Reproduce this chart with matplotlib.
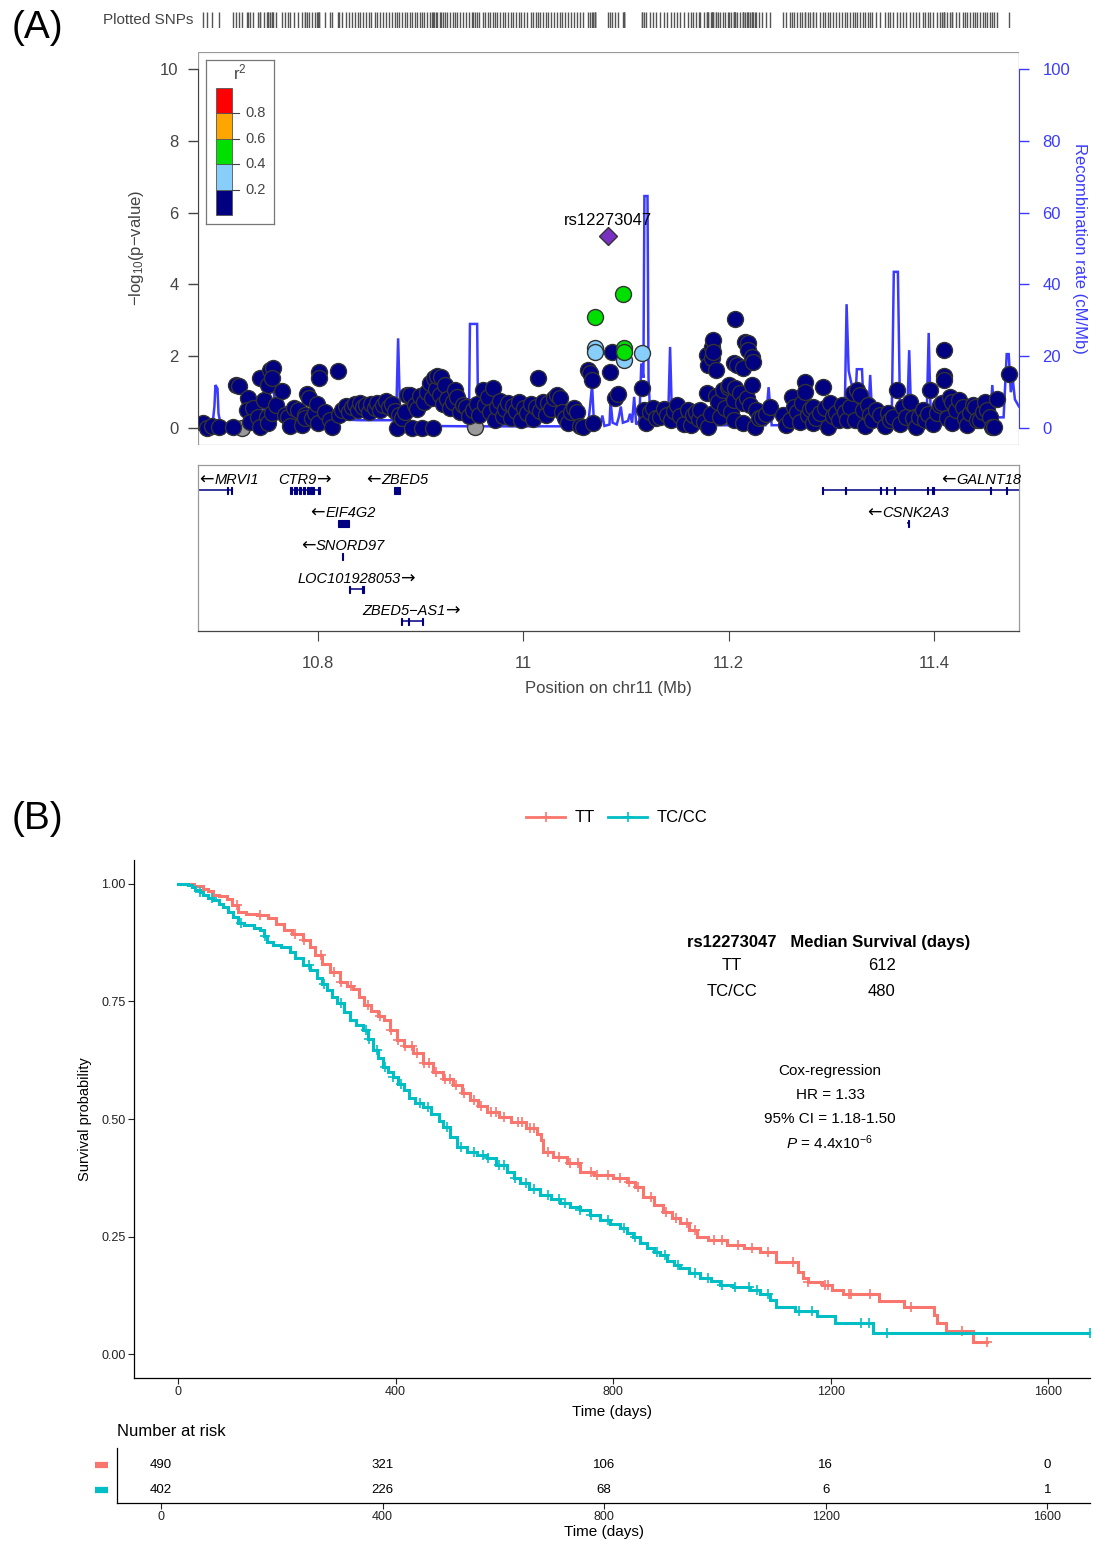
import numpy as np
import matplotlib
matplotlib.use("Agg")
import matplotlib.pyplot as plt
from matplotlib.patches import Rectangle
from matplotlib.lines import Line2D
from matplotlib.transforms import offset_copy

plt.rcParams['font.family'] = ['Liberation Sans', 'DejaVu Sans']
plt.rcParams['mathtext.fontset'] = 'custom'
plt.rcParams['mathtext.rm'] = 'Liberation Sans'
plt.rcParams['mathtext.it'] = 'Liberation Sans:italic'
plt.rcParams['mathtext.bf'] = 'Liberation Sans:bold'

# ------------------------------------------------------------------
# Panel A: regional association around rs12273047 (chr11)
# ------------------------------------------------------------------
lead_snp = "rs12273047"
lead_pos, lead_logp = 11.0825, 5.35

# (position in Mb, -log10 p) by LD bin with the lead SNP
navy_snps = [
    (10.688, 0.14), (10.692, 0.00), (10.697, 0.06), (10.703, 0.03), (10.717, 0.03),
    (10.720, 1.20), (10.723, 1.17), (10.732, 0.84), (10.731, 0.50), (10.737, 0.56),
    (10.734, 0.17), (10.741, 0.31), (10.743, 1.39), (10.743, 0.03), (10.747, 0.78),
    (10.750, 0.31), (10.751, 1.20), (10.751, 0.14), (10.753, 1.62), (10.756, 1.67),
    (10.755, 1.39), (10.755, 0.42), (10.759, 0.64), (10.765, 1.03), (10.768, 0.36),
    (10.771, 0.31), (10.773, 0.06), (10.777, 0.56), (10.780, 0.50), (10.784, 0.08),
    (10.787, 0.36), (10.787, 0.28), (10.789, 0.95), (10.791, 0.84), (10.794, 0.28),
    (10.797, 0.42), (10.799, 0.67), (10.800, 0.14), (10.801, 1.56), (10.801, 1.39),
    (10.807, 0.45), (10.812, 0.22), (10.814, 0.03), (10.819, 1.59), (10.820, 0.36),
    (10.823, 0.50), (10.827, 0.61), (10.830, 0.45), (10.833, 0.58), (10.836, 0.67),
    (10.839, 0.50), (10.841, 0.70), (10.844, 0.58), (10.847, 0.64), (10.850, 0.45),
    (10.852, 0.67), (10.855, 0.56), (10.857, 0.70), (10.860, 0.50), (10.863, 0.64),
    (10.866, 0.75), (10.869, 0.58), (10.872, 0.67), (10.875, 0.47), (10.877, 0.00),
    (10.879, 0.36), (10.882, 0.28), (10.885, 0.45), (10.887, 0.92), (10.890, 0.92),
    (10.892, 0.00), (10.894, 0.64), (10.896, 0.53), (10.899, 0.89), (10.901, 0.00),
    (10.903, 0.72), (10.906, 1.00), (10.909, 1.25), (10.911, 0.84), (10.912, 0.00),
    (10.913, 1.39), (10.915, 1.09), (10.916, 1.45), (10.919, 0.92), (10.920, 1.42),
    (10.922, 0.67), (10.924, 1.20), (10.926, 0.81), (10.929, 0.56), (10.931, 0.72),
    (10.933, 1.06), (10.935, 0.86), (10.938, 0.45), (10.941, 0.64), (10.944, 0.58),
    (10.947, 0.33), (10.951, 0.50), (10.955, 0.67), (10.957, 0.36), (10.961, 1.06),
    (10.963, 0.64), (10.966, 0.86), (10.968, 0.45), (10.970, 1.11), (10.972, 0.22),
    (10.974, 0.58), (10.977, 0.75), (10.980, 0.33), (10.982, 0.53), (10.985, 0.70),
    (10.988, 0.28), (10.990, 0.61), (10.993, 0.47), (10.996, 0.72), (10.998, 0.22),
    (11.001, 0.56), (11.004, 0.42), (11.007, 0.67), (11.009, 0.25), (11.012, 0.58),
    (11.014, 1.39), (11.016, 0.47), (11.019, 0.72), (11.022, 0.36), (11.024, 0.70),
    (11.027, 0.53), (11.030, 0.84), (11.033, 0.92), (11.036, 0.84), (11.038, 0.45),
    (11.041, 0.28), (11.044, 0.14), (11.046, 0.45), (11.049, 0.56), (11.052, 0.45),
    (11.055, 0.06), (11.058, 0.03), (11.063, 1.62), (11.065, 1.53), (11.067, 1.34),
    (11.068, 0.14), (11.084, 1.56), (11.086, 2.12), (11.089, 0.84), (11.092, 0.95),
    (11.116, 1.11), (11.118, 0.50), (11.120, 0.14), (11.123, 0.45), (11.126, 0.56),
    (11.129, 0.28), (11.133, 0.31), (11.137, 0.53), (11.140, 0.36), (11.144, 0.22),
    (11.147, 0.47), (11.150, 0.64), (11.153, 0.33), (11.157, 0.11), (11.160, 0.50),
    (11.163, 0.08), (11.165, 0.36), (11.168, 0.45), (11.171, 0.25), (11.172, 0.50),
    (11.176, 0.17), (11.179, 0.98), (11.179, 2.03), (11.180, 1.75), (11.180, 0.03),
    (11.183, 0.39), (11.184, 2.26), (11.184, 1.95), (11.185, 2.45), (11.185, 2.12),
    (11.188, 0.89), (11.188, 1.62), (11.190, 0.72), (11.192, 0.31), (11.195, 1.06),
    (11.197, 0.56), (11.199, 1.14), (11.200, 1.20), (11.202, 0.45), (11.205, 0.78),
    (11.205, 1.81), (11.205, 0.22), (11.206, 3.04), (11.206, 1.11), (11.208, 1.75),
    (11.211, 0.98), (11.214, 1.67), (11.214, 0.70), (11.214, 0.14), (11.216, 2.40),
    (11.218, 0.84), (11.219, 2.37), (11.219, 2.17), (11.221, 0.64), (11.223, 1.98),
    (11.223, 1.20), (11.224, 1.84), (11.226, 0.03), (11.227, 0.50), (11.230, 0.28),
    (11.233, 0.31), (11.236, 0.39), (11.240, 0.58), (11.253, 0.36), (11.256, 0.08),
    (11.260, 0.22), (11.262, 0.86), (11.264, 0.58), (11.267, 0.45), (11.270, 0.17),
    (11.272, 0.70), (11.274, 1.28), (11.274, 1.00), (11.277, 0.36), (11.279, 0.53),
    (11.282, 0.58), (11.282, 0.14), (11.285, 0.28), (11.289, 0.42), (11.292, 1.14),
    (11.294, 0.56), (11.297, 0.03), (11.299, 0.70), (11.302, 0.33), (11.305, 0.42),
    (11.308, 0.22), (11.311, 0.64), (11.313, 0.45), (11.315, 0.22), (11.318, 0.58),
    (11.321, 0.97), (11.323, 0.22), (11.325, 1.06), (11.328, 0.92), (11.331, 0.50),
    (11.333, 0.06), (11.336, 0.64), (11.338, 0.36), (11.340, 0.22), (11.344, 0.50),
    (11.348, 0.36), (11.352, 0.06), (11.355, 0.42), (11.357, 0.22), (11.360, 0.31),
    (11.364, 1.06), (11.367, 0.11), (11.370, 0.58), (11.373, 0.31), (11.377, 0.72),
    (11.380, 0.28), (11.383, 0.03), (11.386, 0.31), (11.389, 0.50), (11.391, 0.22),
    (11.394, 0.39), (11.396, 1.06), (11.399, 0.11), (11.403, 0.42), (11.406, 0.64),
    (11.408, 0.70), (11.410, 2.17), (11.410, 1.45), (11.410, 1.34), (11.413, 0.28),
    (11.416, 0.86), (11.418, 0.72), (11.418, 0.14), (11.422, 0.50), (11.425, 0.78),
    (11.428, 0.58), (11.430, 0.28), (11.432, 0.08), (11.435, 0.42), (11.438, 0.64),
    (11.440, 0.58), (11.442, 0.22), (11.445, 0.22), (11.448, 0.45), (11.450, 0.72),
    (11.452, 0.50), (11.455, 0.31), (11.457, 0.03), (11.459, 0.03), (11.462, 0.81),
    (11.473, 1.50),
]
lightblue_snps = [(11.070, 2.23), (11.070, 2.12), (11.098, 1.89), (11.116, 2.09)]
green_snps = [(11.070, 3.09), (11.097, 3.73), (11.098, 2.23), (11.098, 2.12)]
nold_snps = [(10.726, 0.00), (10.950, 0.58), (10.953, 0.03)]

# recombination rate (cM/Mb) along the region
recomb_pos = [10.683, 10.697, 10.699, 10.700, 10.702, 10.703, 10.705, 10.745, 10.747,
              10.752, 10.753, 10.757, 10.758, 10.763, 10.782, 10.802, 10.814, 10.841,
              10.876, 10.878, 10.880, 10.882, 10.909, 10.947, 10.948, 10.955, 10.956,
              11.063, 11.065, 11.067, 11.069, 11.075, 11.077, 11.079, 11.084, 11.085,
              11.087, 11.091, 11.093, 11.095, 11.097, 11.102, 11.104, 11.106, 11.108,
              11.110, 11.113, 11.115, 11.117, 11.118, 11.121, 11.122, 11.124, 11.141,
              11.143, 11.145, 11.172, 11.236, 11.239, 11.242, 11.313, 11.315, 11.317,
              11.320, 11.323, 11.325, 11.330, 11.332, 11.336, 11.338, 11.340, 11.359,
              11.361, 11.365, 11.367, 11.374, 11.376, 11.378, 11.393, 11.395, 11.397,
              11.455, 11.457, 11.459, 11.468, 11.471, 11.473, 11.475, 11.477, 11.479,
              11.483]
recomb_rate = [0.3, 0.6, 6.0, 12.0, 11.0, 4.0, 1.2, 1.5, 5.5,
               5.8, 10.0, 10.0, 5.5, 6.0, 5.5, 3.5, 2.5, 2.2,
               2.2, 25.0, 3.0, 1.5, 0.6, 0.5, 29.0, 29.0, 0.5,
               0.5, 6.0, 12.0, 0.6, 0.8, 3.5, 0.6, 1.0, 7.8,
               1.5, 1.0, 3.0, 6.0, 1.5, 2.0, 4.0, 1.5, 8.7,
               1.0, 2.0, 18.0, 14.0, 64.6, 64.6, 14.0, 1.4, 1.4,
               22.6, 1.4, 0.8, 0.8, 11.4, 0.8, 1.0, 34.5, 16.0,
               12.0, 4.0, 16.4, 16.4, 3.0, 3.0, 14.8, 3.0, 3.0,
               43.5, 43.5, 6.0, 3.0, 21.7, 3.0, 3.0, 26.5, 3.0,
               3.0, 12.0, 3.0, 3.0, 20.6, 20.6, 10.0, 13.4, 8.0,
               6.0]

# genes: name, start, end, strand, row, exons
gene_names = ["MRVI1", "CTR9", "ZBED5", "EIF4G2", "SNORD97", "LOC101928053",
              "ZBED5\u2212AS1", "GALNT18", "CSNK2A3"]
gene_start = [10.550, 10.773, 10.874, 10.819, 10.8235, 10.830, 10.8805, 11.2918, 11.3740]
gene_end = [10.7155, 10.802, 10.880, 10.830, 10.8245, 10.845, 10.902, 11.600, 11.3760]
gene_strand = ["-", "+", "-", "-", "-", "+", "+", "-", "-"]
gene_row = [0, 0, 0, 1, 2, 3, 4, 0, 1]
gene_exons = [
    [(10.7115, 10.7125), (10.7150, 10.7160)],
    [(10.773, 10.775), (10.777, 10.779), (10.781, 10.783), (10.785, 10.787),
     (10.789, 10.791), (10.792, 10.796), (10.800, 10.802)],
    [(10.874, 10.880)],
    [(10.819, 10.830)],
    [(10.8235, 10.8245)],
    [(10.8305, 10.8315), (10.843, 10.845)],
    [(10.8805, 10.8815), (10.888, 10.889), (10.901, 10.902)],
    [(11.2915, 11.2925), (11.3135, 11.3145), (11.3475, 11.3485), (11.3535, 11.3545),
     (11.3615, 11.3625), (11.3935, 11.3945), (11.3985, 11.4005), (11.4545, 11.4555),
     (11.4705, 11.4715)],
    [(11.3745, 11.3760)],
]

# ------------------------------------------------------------------
# Panel B: Kaplan-Meier curves by rs12273047 genotype
# ------------------------------------------------------------------
groups = ["TT", "TC/CC"]
group_colors = ["#F8766D", "#00BFC4"]

tt_time = [0, 30, 45, 55, 64, 75, 90, 100, 110, 125, 145, 165, 180, 195, 210, 230,
           242, 252, 265, 280, 298, 310, 322, 332, 342, 355, 368, 378, 390, 403, 415,
           432, 450, 469, 488, 506, 522, 537, 552, 568, 590, 612, 640, 660, 668, 672,
           690, 715, 739, 765, 800, 825, 840, 855, 875, 892, 908, 923, 940, 954, 975,
           1009, 1040, 1070, 1100, 1140, 1149, 1159, 1184, 1203, 1223, 1289, 1335,
           1390, 1396, 1412, 1462, 1488]
tt_surv = [1.000, 0.996, 0.990, 0.985, 0.977, 0.974, 0.968, 0.955, 0.940, 0.936, 0.933,
           0.928, 0.915, 0.902, 0.893, 0.881, 0.865, 0.849, 0.830, 0.812, 0.791, 0.784,
           0.776, 0.760, 0.743, 0.730, 0.720, 0.710, 0.690, 0.668, 0.655, 0.640, 0.620,
           0.600, 0.585, 0.572, 0.556, 0.540, 0.528, 0.515, 0.505, 0.494, 0.480, 0.468,
           0.455, 0.430, 0.420, 0.406, 0.387, 0.380, 0.374, 0.366, 0.355, 0.334, 0.318,
           0.302, 0.290, 0.279, 0.264, 0.249, 0.242, 0.232, 0.225, 0.217, 0.196, 0.174,
           0.161, 0.153, 0.147, 0.136, 0.128, 0.113, 0.100, 0.083, 0.066, 0.049, 0.025,
           0.025]
tt_censor = [108, 150, 215, 232, 262, 286, 300, 318, 350, 372, 392, 405, 418, 430, 440,
             452, 462, 475, 490, 500, 512, 525, 545, 558, 575, 585, 600, 625, 632, 648,
             655, 680, 700, 720, 735, 760, 770, 790, 812, 830, 845, 870, 898, 915, 935,
             950, 985, 1000, 1030, 1055, 1085, 1130, 1159, 1190, 1195, 1234, 1237, 1272,
             1347, 1441, 1488]

tc_time = [0, 18, 25, 31, 40, 46, 55, 64, 75, 83, 92, 101, 110, 122, 140, 151, 158, 164,
           175, 190, 205, 215, 230, 243, 255, 265, 274, 284, 292, 305, 316, 328, 340,
           350, 359, 368, 377, 386, 395, 405, 415, 425, 435, 451, 465, 480, 487, 500,
           513, 531, 550, 568, 585, 605, 618, 629, 645, 666, 685, 702, 720, 739, 757,
           776, 795, 813, 825, 837, 850, 862, 875, 886, 900, 912, 923, 940, 960, 980,
           997, 1020, 1052, 1070, 1089, 1100, 1135, 1175, 1208, 1278, 1677]
tc_surv = [1.000, 0.998, 0.993, 0.987, 0.982, 0.977, 0.971, 0.966, 0.958, 0.951, 0.940,
           0.930, 0.917, 0.912, 0.906, 0.902, 0.890, 0.877, 0.870, 0.865, 0.855, 0.843,
           0.828, 0.817, 0.800, 0.787, 0.774, 0.760, 0.747, 0.728, 0.711, 0.700, 0.689,
           0.670, 0.647, 0.630, 0.611, 0.600, 0.589, 0.575, 0.562, 0.545, 0.535, 0.526,
           0.510, 0.495, 0.483, 0.462, 0.440, 0.430, 0.424, 0.417, 0.403, 0.387, 0.375,
           0.364, 0.352, 0.338, 0.330, 0.321, 0.313, 0.306, 0.296, 0.285, 0.276, 0.268,
           0.258, 0.249, 0.237, 0.226, 0.218, 0.210, 0.198, 0.190, 0.183, 0.172, 0.162,
           0.155, 0.147, 0.142, 0.136, 0.127, 0.115, 0.100, 0.091, 0.081, 0.066, 0.045,
           0.045]
tc_censor = [40, 62, 115, 160, 240, 268, 300, 345, 352, 365, 380, 395, 410, 445, 460,
             495, 520, 545, 560, 570, 590, 600, 620, 640, 655, 680, 700, 712, 740, 760,
             790, 820, 840, 880, 895, 920, 950, 975, 1000, 1025, 1050, 1065, 1085, 1141,
             1166, 1255, 1271, 1303, 1677]

risk_times = [0, 400, 800, 1200, 1600]
risk_tt = [490, 321, 106, 16, 0]
risk_tc = [402, 226, 68, 6, 1]

median_tt, median_tc = 612, 480
hr_text = "HR = 1.33"
ci_text = "95% CI = 1.18-1.50"
p_text = r"$\it{P}$ = 4.4x10$^{-6}$"

# ------------------------------------------------------------------
W, H = 1093, 1542
fig = plt.figure(figsize=(W / 100, H / 100), dpi=100)


def box(x0, y0, x1, y1):
    return [x0 / W, 1 - y1 / H, (x1 - x0) / W, (y1 - y0) / H]


XLIM = (10.683, 11.483)
GREY = "#444444"
RECOMB = "#3b3bff"

# ---- main association axes ----
ax = fig.add_axes(box(198, 52, 1019, 445))
ax2 = ax.twinx()
ax.set_zorder(ax2.get_zorder() + 1)
ax.patch.set_visible(False)

ax.set_xlim(*XLIM)
ax.set_ylim(-0.47, 10.47)
ax2.set_ylim(-4.7, 104.7)

ax2.plot(recomb_pos, recomb_rate, color=RECOMB, lw=1.8, solid_joinstyle="miter")

mk = dict(marker="o", ls="none", ms=11.5, mec="#333333", mew=1.0)
p, v = zip(*nold_snps)
ax.plot(p, v, mfc="#9a9a9a", **mk)
p, v = zip(*navy_snps)
ax.plot(p, v, mfc="#000080", **mk)
p, v = zip(*lightblue_snps)
ax.plot(p, v, mfc="#87CEFA", **mk)
p, v = zip(*green_snps)
ax.plot(p, v, mfc="#00E000", **mk)
ax.plot([lead_pos], [lead_logp], marker="D", ms=9.5, mfc="#7a30c0", mec="#333333",
        mew=1.0, ls="none")
ax.annotate(lead_snp, (lead_pos, lead_logp), xytext=(0, 6), textcoords="offset points",
            ha="center", va="bottom", fontsize=12, color="black")

for a in (ax, ax2):
    for s in a.spines.values():
        s.set_visible(False)
ax.spines["left"].set_visible(True)
ax.spines["left"].set_bounds(0, 10)
ax.spines["left"].set_color(GREY)
ax2.spines["right"].set_visible(True)
ax2.spines["right"].set_bounds(0, 100)
ax2.spines["right"].set_color(RECOMB)
ax.add_patch(Rectangle((0, 0), 1, 1, transform=ax.transAxes, fill=False,
                       ec="#9a9a9a", lw=0.9, zorder=0))

ax.set_xticks([])
ax.set_yticks([0, 2, 4, 6, 8, 10])
ax.tick_params(axis="y", direction="out", length=7, width=1, colors=GREY,
               labelsize=12, pad=7)
ax2.set_yticks([0, 20, 40, 60, 80, 100])
ax2.tick_params(axis="y", direction="out", length=7, width=1, colors=RECOMB,
                labelsize=12, pad=10)
ax2.set_xticks([])

fig.text(137 / W, 1 - 248 / H, "\u2212log$_{10}$(p\u2212value)", rotation=90,
         ha="center", va="center", fontsize=12, color=GREY)
fig.text(1080 / W, 1 - 248 / H, "Recombination rate (cM/Mb)", rotation=270,
         ha="center", va="center", fontsize=12, color=RECOMB)

# ---- r^2 legend ----
axl = fig.add_axes(box(206, 60, 274, 224))
axl.set_xlim(0, 68)
axl.set_ylim(-0.071, 1.22)
ld_bins = [0.0, 0.2, 0.4, 0.6, 0.8]
ld_colors = ["#000080", "#87CEFA", "#00E000", "#FFA500", "#FF0000"]
axl.bar([18] * 5, [0.2] * 5, bottom=ld_bins, width=16, color=ld_colors,
        edgecolor="#555555", linewidth=0.6)
for b in ld_bins[1:]:
    axl.plot([26, 33], [b, b], color=GREY, lw=0.8)
    axl.text(39, b, f"{b:.1f}", ha="left", va="center", fontsize=10.5, color=GREY)
axl.text(34, 1.12, "r$^2$", ha="center", va="center", fontsize=12, color=GREY)
axl.set_xticks([])
axl.set_yticks([])
for s in axl.spines.values():
    s.set_color("#777777")
    s.set_linewidth(0.9)

# ---- plotted SNP rug ----
axr = fig.add_axes(box(198, 12, 1019, 28))
axr.set_xlim(*XLIM)
axr.set_ylim(0, 1)
all_pos = [q for q, _ in navy_snps + lightblue_snps + green_snps + nold_snps] + [lead_pos]
axr.vlines(all_pos, 0, 1, color="#555555", lw=1.0)
axr.axis("off")
fig.text(193 / W, 1 - 20 / H, "Plotted SNPs", ha="right", va="center", fontsize=11,
         color=GREY)
fig.text(37 / W, 1 - 28 / H, "(A)", ha="center", va="center", fontsize=28)

# ---- gene track ----
axg = fig.add_axes(box(198, 465, 1019, 631))
axg.set_xlim(*XLIM)
axg.set_ylim(631, 465)
row_y = [490, 523, 556, 589, 621]
GFS = 10.5
AFS = 12.5      # strand arrow size
ARROW_W = 15    # pixels taken by the strand arrow glyph


def gene_label(x, y, name, strand, ha):
    """Italic gene name with a strand arrow on the appropriate side."""
    if strand == "-":
        shift = {"center": ARROW_W / 2, "left": ARROW_W, "right": 0}[ha]
    else:
        shift = {"center": -ARROW_W / 2, "left": 0, "right": -ARROW_W}[ha]
    tr = offset_copy(axg.transData, fig=fig, x=shift, y=0, units="dots")
    t = axg.text(x, y, name, ha=ha, va="center", fontsize=GFS, style="italic",
                 transform=tr)
    if strand == "-":
        axg.annotate("\u2190", xy=(0, 0.5), xycoords=t, xytext=(-0.3, 0),
                     textcoords="offset points", ha="right", va="center",
                     fontsize=AFS, family="DejaVu Sans")
    else:
        axg.annotate("\u2192", xy=(1, 0.5), xycoords=t, xytext=(0.3, 0),
                     textcoords="offset points", ha="left", va="center",
                     fontsize=AFS, family="DejaVu Sans")


for name, s0, s1, strand, row, exons in zip(gene_names, gene_start, gene_end,
                                             gene_strand, gene_row, gene_exons):
    yy = row_y[row]
    axg.plot([s0, s1], [yy, yy], color="#000080", lw=1.1, solid_capstyle="butt")
    for e0, e1 in exons:
        axg.add_patch(Rectangle((e0, yy - 3.5), e1 - e0, 7, color="#000080", lw=0.8))
    c = 0.5 * (s0 + s1)
    if c < XLIM[0] + 0.03:
        gene_label(XLIM[0] + 0.0015, yy - 10, name, strand, "left")
    elif c > XLIM[1] - 0.03:
        gene_label(XLIM[1] - 0.0045, yy - 10, name, strand, "right")
    else:
        gene_label(c, yy - 10, name, strand, "center")

for s in axg.spines.values():
    s.set_color("#9a9a9a")
    s.set_linewidth(0.9)
axg.set_yticks([])
axg.set_xticks([10.8, 11.0, 11.2, 11.4])
axg.set_xticklabels(["10.8", "11", "11.2", "11.4"])
axg.tick_params(axis="x", direction="out", length=7, colors=GREY, labelsize=12, pad=11)
axg.spines["bottom"].set_color(GREY)
fig.text(608 / W, 1 - 688 / H, "Position on chr11 (Mb)", ha="center", va="center",
         fontsize=12, color=GREY)

# ------------------------------------------------------------------
# Panel B
# ------------------------------------------------------------------
fig.text(37 / W, 1 - 819 / H, "(B)", ha="center", va="center", fontsize=28)
XL = (-81, 1677)

axk = fig.add_axes(box(134, 860, 1090, 1378))
axk.set_xlim(*XL)
axk.set_ylim(-0.051, 1.051)
for times, surv, cens, col in ((tt_time, tt_surv, tt_censor, group_colors[0]),
                               (tc_time, tc_surv, tc_censor, group_colors[1])):
    axk.step(times, surv, where="post", color=col, lw=2.2, solid_joinstyle="miter")
    idx = np.searchsorted(times, cens, side="right") - 1
    axk.plot(cens, np.asarray(surv)[idx], ls="none", marker="+", ms=7, mew=1.2,
             color=col)
for s in ("top", "right"):
    axk.spines[s].set_visible(False)
for s in ("left", "bottom"):
    axk.spines[s].set_linewidth(0.9)
axk.set_xticks([0, 400, 800, 1200, 1600])
axk.set_yticks([0, 0.25, 0.5, 0.75, 1.0])
axk.set_yticklabels(["0.00", "0.25", "0.50", "0.75", "1.00"])
axk.tick_params(direction="out", length=4, width=0.8, labelsize=9, colors="#222222",
                pad=2)
axk.set_xlabel("Time (days)", fontsize=11, labelpad=5)
axk.set_ylabel("Survival probability", fontsize=10.5, labelpad=7)

handles = [Line2D([], [], color=c, lw=2, marker="+", ms=7, mew=1.2) for c in group_colors]
fig.legend(handles, groups, loc="center", bbox_to_anchor=(617 / W, 1 - 818 / H), ncol=2,
           frameon=False, fontsize=12, handlelength=2.3, columnspacing=0.8,
           handletextpad=0.6)

# median survival table and Cox summary
fig.text(687 / W, 1 - 942 / H, lead_snp + "   Median Survival (days)", ha="left",
         va="center", fontsize=12, fontweight="bold")
fig.text(732 / W, 1 - 966 / H, groups[0], ha="center", va="center", fontsize=12)
fig.text(882 / W, 1 - 966 / H, str(median_tt), ha="center", va="center", fontsize=12)
fig.text(732 / W, 1 - 991 / H, groups[1], ha="center", va="center", fontsize=12)
fig.text(882 / W, 1 - 991 / H, str(median_tc), ha="center", va="center", fontsize=12)
for yy, t in ((1071, "Cox-regression"), (1095, hr_text), (1119, ci_text), (1143, p_text)):
    fig.text(830 / W, 1 - yy / H, t, ha="center", va="center", fontsize=11)

# ---- number at risk ----
axt = fig.add_axes(box(117, 1448, 1090, 1503))
axt.set_xlim(-79.5, 1677)
axt.set_ylim(0, 1)
for yy, counts, col in ((0.70, risk_tt, group_colors[0]), (0.23, risk_tc, group_colors[1])):
    for t, n in zip(risk_times, counts):
        axt.text(t, yy, str(n), ha="center", va="center", fontsize=9.5)
    axt.plot([-0.0226, -0.0093], [yy, yy], transform=axt.transAxes, clip_on=False,
             color=col, lw=4.5, solid_capstyle="butt")
for s in ("top", "right"):
    axt.spines[s].set_visible(False)
axt.spines["left"].set_linewidth(0.9)
axt.spines["bottom"].set_linewidth(0.9)
axt.set_yticks([])
axt.set_xticks(risk_times)
axt.tick_params(direction="out", length=4, width=0.8, labelsize=9, colors="#222222",
                pad=2)
axt.set_xlabel("Time (days)", fontsize=11, labelpad=1)
fig.text(117 / W, 1 - 1432 / H, "Number at risk", ha="left", va="center", fontsize=12)

fig.savefig("out.png", dpi=100)
